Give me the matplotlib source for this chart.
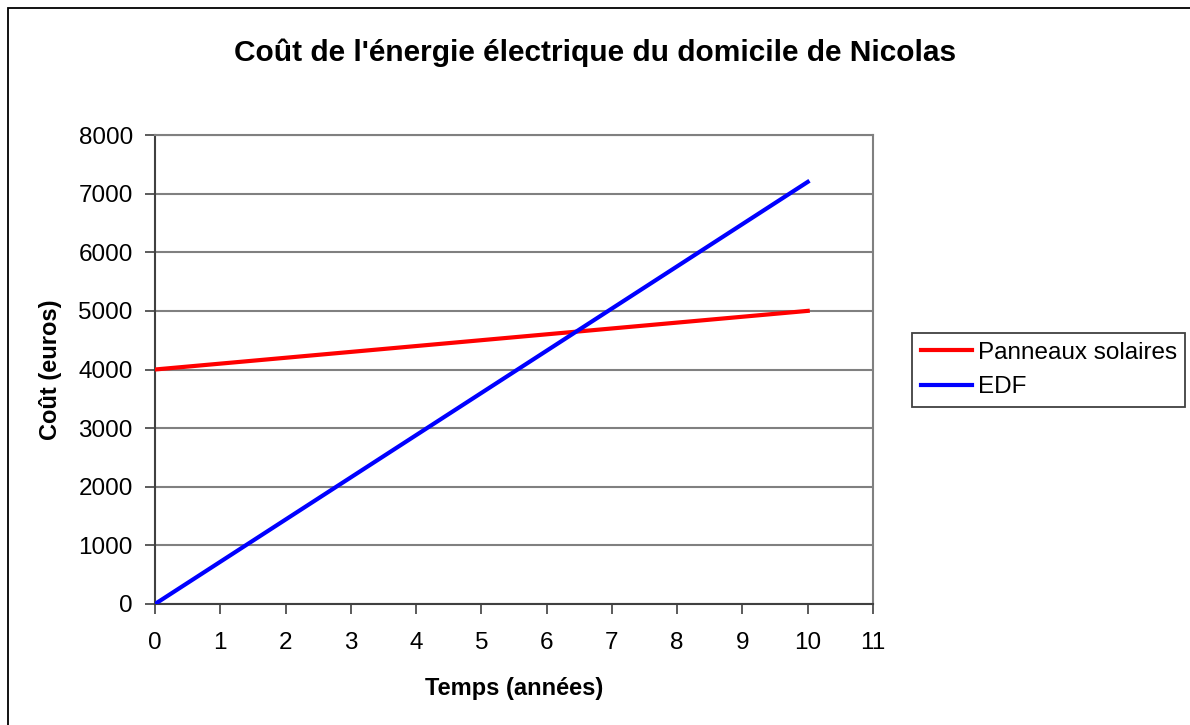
import matplotlib.pyplot as plt
from matplotlib.patches import Rectangle

plt.rcParams['font.family'] = ['Liberation Sans', 'DejaVu Sans']

# data
annees = [0, 1, 2, 3, 4, 5, 6, 7, 8, 9, 10]
panneaux = [4000, 4100, 4200, 4300, 4400, 4500, 4600, 4700, 4800, 4900, 5000]
edf = [0, 720, 1440, 2160, 2880, 3600, 4320, 5040, 5760, 6480, 7200]
xticks = list(range(0, 12))
yticks = list(range(0, 9000, 1000))

W, H = 1190, 725
fig = plt.figure(figsize=(W / 100, H / 100), dpi=100)
ax = fig.add_axes([155 / W, 1 - 604 / H, (873 - 155) / W, (604 - 135) / H])

# outer border of the chart (cut at right/bottom like the reference)
fig.patches.append(Rectangle((8 / W, -0.1), 1.2, 1 - 8 / H + 0.1, transform=fig.transFigure,
                             fill=False, edgecolor='black', linewidth=1.3))

ax.plot(annees, panneaux, color='#ff0000', linewidth=3, label='Panneaux solaires', zorder=3)
ax.plot(annees, edf, color='#0000ff', linewidth=3, label='EDF', zorder=3)

ax.set_xlim(0, 11)
ax.set_ylim(0, 8000)
ax.set_xticks(xticks)
ax.set_yticks(yticks)
ax.grid(axis='y', color='#808080', linewidth=1.5, zorder=1)
ax.tick_params(labelsize=17.5, length=7, width=1.2, color='#404040')
ax.tick_params(axis='x', pad=13)
ax.tick_params(axis='y', pad=9)

for s in ['left', 'bottom']:
    ax.spines[s].set_color('#404040')
    ax.spines[s].set_linewidth(1.5)
for s in ['top', 'right']:
    ax.spines[s].set_color('#808080')
    ax.spines[s].set_linewidth(1.5)

ax.set_xlabel('Temps (années)', fontsize=17, fontweight='bold', labelpad=17)
ax.set_ylabel('Coût (euros)', fontsize=17, fontweight='bold', labelpad=12)
fig.text(0.5, 1 - 53 / H, "Coût de l'énergie électrique du domicile de Nicolas",
         ha='center', va='center', fontsize=21.5, fontweight='bold')

leg = ax.legend(loc='center left', bbox_to_anchor=(912 / W, 1 - 370 / H),
                bbox_transform=fig.transFigure, fontsize=17.5, frameon=True,
                fancybox=False, edgecolor='#404040', framealpha=1,
                handlelength=2.1, handletextpad=0.25, borderpad=0.35,
                labelspacing=0.5, borderaxespad=0)
leg.get_frame().set_linewidth(1.3)

fig.savefig('out.png', dpi=100)
